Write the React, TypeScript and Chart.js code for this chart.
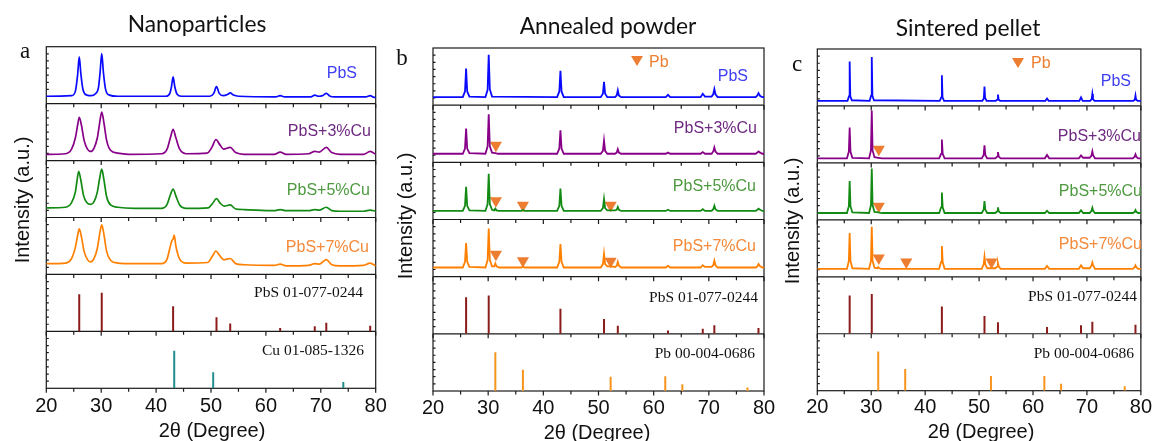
import React, { useEffect, useRef } from "react";
import { Chart, registerables } from "chart.js";
Chart.register(...registerables);

type Pt = [number, number];

// ---------------- DATA ----------------
const X_TICKS = [20, 30, 40, 50, 60, 70, 80];
const SAMPLE_LABELS = ["PbS", "PbS+3%Cu", "PbS+5%Cu", "PbS+7%Cu"];
const PANEL_TITLES = ["Nanoparticles", "Annealed powder", "Sintered pellet"];

// Panel a – nanoparticles (2θ, relative intensity within its strip)
const A_PBS: Pt[] = [[20,0.13],[24.6,0.14],[25.3,0.22],[25.7,0.5],[26.0,0.82],[26.3,0.52],[26.7,0.24],[27.4,0.15],[28.2,0.14],[28.9,0.17],[29.5,0.28],[29.8,0.55],[30.1,0.88],[30.4,0.55],[30.8,0.25],[31.5,0.15],[33,0.13],[41.8,0.13],[42.5,0.18],[42.8,0.3],[43.1,0.47],[43.4,0.3],[43.8,0.17],[44.6,0.13],[49.8,0.13],[50.5,0.18],[51.0,0.30],[51.5,0.18],[52.2,0.14],[53.0,0.16],[53.5,0.19],[54.1,0.15],[55,0.13],[61.8,0.12],[62.6,0.14],[63.4,0.12],[68.2,0.12],[68.9,0.15],[69.6,0.13],[70.3,0.14],[71.0,0.18],[71.7,0.13],[72.5,0.12],[78.2,0.12],[79.0,0.14],[79.7,0.11],[80,0.11]];
const A_3CU: Pt[] = [[20,0.11],[23.5,0.12],[24.6,0.2],[25.3,0.4],[25.7,0.62],[26.0,0.76],[26.4,0.62],[26.9,0.35],[27.5,0.2],[28.1,0.16],[28.7,0.22],[29.3,0.4],[29.7,0.65],[30.1,0.85],[30.5,0.66],[31.0,0.35],[31.7,0.18],[33,0.13],[35,0.11],[41,0.12],[42.0,0.2],[42.6,0.4],[43.1,0.55],[43.6,0.4],[44.3,0.2],[45.5,0.12],[49.3,0.13],[50.2,0.24],[50.9,0.37],[51.6,0.28],[52.3,0.2],[53.5,0.23],[54.5,0.14],[56,0.11],[61.5,0.11],[62.6,0.15],[63.7,0.11],[67.8,0.12],[68.9,0.16],[69.7,0.15],[71.0,0.23],[72.0,0.14],[73.5,0.11],[77.8,0.11],[79.0,0.16],[80,0.11]];
const A_5CU: Pt[] = [[20,0.17],[23.5,0.18],[24.6,0.26],[25.3,0.45],[25.6,0.65],[25.9,0.81],[26.3,0.65],[26.8,0.38],[27.4,0.26],[28.1,0.23],[28.7,0.28],[29.3,0.45],[29.7,0.68],[30.1,0.85],[30.5,0.66],[31.0,0.36],[31.7,0.22],[33,0.18],[36,0.16],[41,0.16],[42.0,0.23],[42.6,0.4],[43.1,0.5],[43.6,0.38],[44.3,0.22],[45.5,0.16],[49.5,0.17],[50.3,0.25],[51.0,0.33],[51.7,0.25],[52.4,0.2],[53.5,0.22],[54.5,0.15],[56,0.14],[61.5,0.12],[62.6,0.14],[63.7,0.12],[67.8,0.12],[68.9,0.14],[69.7,0.13],[71.0,0.18],[72.0,0.12],[73.5,0.11],[77.8,0.11],[79.0,0.13],[80,0.11]];
const A_7CU: Pt[] = [[20,0.19],[23.5,0.2],[24.6,0.28],[25.3,0.48],[25.7,0.68],[26.0,0.80],[26.4,0.66],[26.9,0.4],[27.5,0.26],[28.1,0.22],[28.7,0.28],[29.3,0.46],[29.7,0.7],[30.1,0.87],[30.5,0.7],[31.0,0.4],[31.7,0.25],[33,0.2],[36,0.19],[41,0.19],[42.0,0.27],[42.5,0.46],[42.9,0.6],[43.1,0.62],[43.3,0.69],[43.6,0.5],[44.3,0.27],[45.5,0.2],[49.4,0.21],[50.3,0.33],[50.9,0.41],[51.6,0.33],[52.3,0.26],[53.5,0.28],[54.5,0.19],[56,0.17],[61.5,0.16],[62.6,0.18],[63.7,0.15],[67.8,0.16],[68.9,0.19],[69.7,0.18],[71.0,0.26],[72.0,0.17],[73.5,0.15],[77.8,0.16],[79.0,0.2],[80,0.15]];

// Panel b – annealed powder
const B_PBS: Pt[] = [[20,0.14],[25.4,0.14],[25.8,0.24],[26.0,0.64],[26.2,0.24],[26.6,0.15],[29.5,0.14],[29.9,0.27],[30.1,0.88],[30.3,0.28],[30.7,0.15],[42.5,0.14],[42.9,0.24],[43.1,0.60],[43.3,0.24],[43.7,0.14],[50.4,0.14],[50.8,0.2],[51.0,0.41],[51.2,0.2],[51.6,0.14],[53.0,0.14],[53.3,0.17],[53.5,0.26],[53.7,0.17],[54.1,0.14],[62.2,0.14],[62.6,0.18],[63.0,0.14],[68.5,0.14],[68.9,0.2],[69.3,0.15],[70.5,0.15],[70.8,0.19],[71.0,0.28],[71.2,0.19],[71.6,0.14],[78.5,0.14],[78.8,0.17],[79.0,0.21],[79.3,0.16],[79.7,0.14],[80,0.14]];
const B_3CU: Pt[] = [[20,0.15],[25.4,0.15],[25.8,0.24],[26.0,0.59],[26.2,0.24],[26.6,0.16],[29.5,0.15],[29.9,0.28],[30.1,0.84],[30.3,0.28],[30.7,0.17],[31.3,0.16],[31.8,0.15],[42.5,0.15],[42.9,0.24],[43.1,0.56],[43.3,0.24],[43.7,0.15],[50.4,0.15],[50.8,0.2],[51.0,0.38],[51.2,0.2],[51.6,0.15],[53.0,0.15],[53.3,0.17],[53.5,0.23],[53.7,0.17],[54.1,0.15],[62.2,0.15],[62.6,0.17],[63.0,0.15],[68.5,0.15],[68.9,0.18],[69.3,0.15],[70.5,0.15],[70.8,0.19],[71.0,0.26],[71.2,0.19],[71.6,0.15],[78.5,0.15],[78.8,0.17],[79.0,0.19],[79.3,0.17],[79.7,0.15],[80,0.15]];
const B_5CU: Pt[] = [[20,0.15],[25.4,0.15],[25.8,0.24],[26.0,0.57],[26.2,0.24],[26.6,0.16],[29.5,0.15],[29.9,0.27],[30.1,0.80],[30.3,0.27],[30.7,0.17],[31.1,0.16],[31.3,0.19],[31.5,0.16],[32,0.15],[36.0,0.15],[36.3,0.165],[36.6,0.15],[42.5,0.15],[42.9,0.24],[43.1,0.54],[43.3,0.24],[43.7,0.15],[50.4,0.15],[50.8,0.2],[51.0,0.36],[51.2,0.2],[51.6,0.16],[52.2,0.16],[53.0,0.16],[53.3,0.17],[53.5,0.22],[53.7,0.17],[54.1,0.15],[62.2,0.15],[62.6,0.17],[63.0,0.15],[68.5,0.15],[68.9,0.18],[69.3,0.15],[70.5,0.15],[70.8,0.18],[71.0,0.24],[71.2,0.18],[71.6,0.15],[78.5,0.15],[78.8,0.17],[79.0,0.19],[79.3,0.17],[79.7,0.15],[80,0.15]];
const B_7CU: Pt[] = [[20,0.16],[25.4,0.16],[25.8,0.26],[26.0,0.59],[26.2,0.26],[26.6,0.17],[29.5,0.16],[29.9,0.29],[30.1,0.84],[30.3,0.29],[30.7,0.18],[31.1,0.18],[31.3,0.23],[31.5,0.18],[32,0.16],[36.0,0.16],[36.3,0.175],[36.6,0.16],[42.5,0.16],[42.9,0.26],[43.1,0.57],[43.3,0.26],[43.7,0.16],[50.4,0.16],[50.8,0.22],[51.0,0.40],[51.2,0.22],[51.6,0.18],[52.2,0.18],[53.0,0.17],[53.3,0.19],[53.5,0.26],[53.7,0.19],[54.1,0.16],[62.2,0.16],[62.6,0.19],[63.0,0.16],[68.5,0.16],[68.9,0.2],[69.3,0.17],[70.5,0.17],[70.8,0.2],[71.0,0.28],[71.2,0.2],[71.6,0.16],[78.5,0.16],[78.8,0.18],[79.0,0.22],[79.3,0.18],[79.7,0.16],[80,0.16]];

// Panel c – sintered pellet
const C_PBS: Pt[] = [[20,0.09],[25.6,0.09],[25.88,0.17],[26.0,0.78],[26.12,0.17],[26.4,0.1],[29.7,0.09],[29.98,0.18],[30.1,0.86],[30.22,0.18],[30.5,0.1],[42.7,0.09],[42.98,0.15],[43.1,0.54],[43.22,0.15],[43.5,0.09],[50.6,0.09],[50.88,0.13],[51.0,0.34],[51.12,0.14],[51.4,0.09],[53.1,0.09],[53.38,0.11],[53.5,0.2],[53.62,0.11],[53.9,0.09],[62.3,0.09],[62.6,0.13],[62.9,0.09],[68.6,0.09],[68.9,0.15],[69.2,0.09],[70.6,0.09],[70.88,0.12],[71.0,0.21],[71.12,0.12],[71.4,0.09],[78.6,0.09],[78.88,0.11],[79.0,0.18],[79.12,0.11],[79.4,0.09],[80,0.09]];
const C_3CU: Pt[] = [[20,0.08],[25.5,0.08],[25.85,0.2],[26.0,0.62],[26.15,0.2],[26.5,0.09],[29.6,0.08],[29.95,0.22],[30.1,0.92],[30.25,0.22],[30.6,0.1],[31.3,0.09],[32,0.08],[42.6,0.08],[42.95,0.16],[43.1,0.41],[43.25,0.16],[43.6,0.08],[50.5,0.08],[50.85,0.14],[51.0,0.31],[51.15,0.14],[51.5,0.08],[53.0,0.08],[53.35,0.11],[53.5,0.19],[53.65,0.11],[54.0,0.08],[62.2,0.08],[62.6,0.14],[63.0,0.08],[68.5,0.08],[68.9,0.13],[69.3,0.09],[70.5,0.09],[70.85,0.13],[71.0,0.2],[71.15,0.13],[71.5,0.08],[78.5,0.08],[78.85,0.11],[79.0,0.15],[79.15,0.11],[79.5,0.08],[80,0.08]];
const C_5CU: Pt[] = [[20,0.12],[25.5,0.12],[25.85,0.24],[26.0,0.68],[26.15,0.24],[26.5,0.13],[29.6,0.12],[29.95,0.26],[30.1,0.90],[30.25,0.26],[30.6,0.14],[31.3,0.13],[32,0.12],[42.6,0.12],[42.95,0.22],[43.1,0.48],[43.25,0.22],[43.6,0.12],[50.5,0.12],[50.85,0.18],[51.0,0.33],[51.15,0.18],[51.5,0.12],[53.0,0.12],[53.35,0.15],[53.5,0.22],[53.65,0.15],[54.0,0.12],[62.2,0.12],[62.6,0.16],[63.0,0.12],[68.5,0.12],[68.9,0.17],[69.3,0.12],[70.5,0.12],[70.85,0.16],[71.0,0.21],[71.15,0.16],[71.5,0.12],[78.5,0.12],[78.85,0.14],[79.0,0.17],[79.15,0.14],[79.5,0.12],[80,0.12]];
const C_7CU: Pt[] = [[20,0.14],[25.5,0.14],[25.85,0.28],[26.0,0.77],[26.15,0.28],[26.5,0.15],[29.6,0.14],[29.95,0.28],[30.1,0.88],[30.25,0.28],[30.6,0.16],[31.1,0.15],[31.3,0.17],[31.5,0.15],[32,0.14],[42.6,0.14],[42.95,0.26],[43.1,0.54],[43.25,0.26],[43.6,0.14],[50.5,0.14],[50.85,0.22],[51.0,0.35],[51.15,0.22],[51.5,0.15],[53.0,0.15],[53.35,0.18],[53.5,0.24],[53.65,0.18],[54.0,0.14],[62.2,0.14],[62.6,0.19],[63.0,0.14],[68.5,0.14],[68.9,0.2],[69.3,0.15],[70.5,0.15],[70.85,0.2],[71.0,0.25],[71.15,0.2],[71.5,0.14],[78.5,0.14],[78.85,0.17],[79.0,0.2],[79.15,0.17],[79.5,0.14],[80,0.14]];

// Reference patterns (stick positions and heights)
const PBS_REF_POS = [26.0, 30.1, 43.1, 51.0, 53.5, 62.6, 68.9, 71.0, 79.0];
const PBS_REF_H_A = [0.65, 0.68, 0.44, 0.25, 0.14, 0.06, 0.09, 0.15, 0.10];
const PBS_REF_H_B = [0.64, 0.67, 0.44, 0.26, 0.14, 0.06, 0.09, 0.15, 0.10];
const PBS_REF_H_C = [0.67, 0.70, 0.48, 0.31, 0.20, 0.12, 0.15, 0.21, 0.16];
const CU_REF_POS = [43.3, 50.4, 74.1];
const CU_REF_H = [0.66, 0.28, 0.11];
const PB_REF_POS = [31.3, 36.3, 52.2, 62.1, 65.2, 77.0];
const PB_REF_H_B = [0.68, 0.37, 0.25, 0.26, 0.12, 0.06];
const PB_REF_H_C = [0.69, 0.38, 0.26, 0.26, 0.12, 0.08];
const REF_LABELS_A = ["PbS 01-077-0244", "Cu 01-085-1326"];
const REF_LABELS_BC = ["PbS 01-077-0244", "Pb 00-004-0686"];

// Pb peak markers (2θ, height within strip) per sample
const MARK_B: Pt[][] = [[], [[31.4, 0.30]], [[31.4, 0.33], [36.3, 0.25], [52.2, 0.25]], [[31.4, 0.39], [36.3, 0.28], [52.2, 0.27]]];
const MARK_C: Pt[][] = [[], [[31.4, 0.24]], [[31.4, 0.24]], [[31.4, 0.33], [36.5, 0.26], [52.3, 0.26]]];

// ---------------- STYLE ----------------
const LINE_COLORS = ["#0a0aff", "#880088", "#138a13", "#ff8000"];
const LABEL_COLORS = ["#3f3ff2", "#6e2a80", "#4e9a40", "#f58a3a"];
const PBS_STICK = "#8b1c1c";
const CU_STICK = "#238d8d";
const PB_STICK = "#f7941d";
const MARK_COLOR = "#ED7D31";

type Panel = {
  pad: { left: number; right: number; top: number; bottom: number };
  tickPad: number;
  curves: Pt[][];
  smooth: boolean;
  lw: number;
  refs: { pos: number[]; h: number[]; color: string }[];
  marks: Pt[][];
};

const PANELS: Panel[] = [
  {
    pad: { left: 46.3, right: 1157 - 375.7, top: 46.7, bottom: 441 - 388.3 - 30 },
    tickPad: 6,
    curves: [A_PBS, A_3CU, A_5CU, A_7CU],
    smooth: true,
    lw: 1.7,
    refs: [
      { pos: PBS_REF_POS, h: PBS_REF_H_A, color: PBS_STICK },
      { pos: CU_REF_POS, h: CU_REF_H, color: CU_STICK },
    ],
    marks: [[], [], [], []],
  },
  {
    pad: { left: 433, right: 1157 - 764, top: 48, bottom: 441 - 391 - 30 },
    tickPad: 5,
    curves: [B_PBS, B_3CU, B_5CU, B_7CU],
    smooth: false,
    lw: 1.8,
    refs: [
      { pos: PBS_REF_POS, h: PBS_REF_H_B, color: PBS_STICK },
      { pos: PB_REF_POS, h: PB_REF_H_B, color: PB_STICK },
    ],
    marks: MARK_B,
  },
  {
    pad: { left: 817.3, right: 1157 - 1146, top: 49, bottom: 441 - 390.7 - 30 },
    tickPad: 5,
    curves: [C_PBS, C_3CU, C_5CU, C_7CU],
    smooth: false,
    lw: 1.8,
    refs: [
      { pos: PBS_REF_POS, h: PBS_REF_H_C, color: PBS_STICK },
      { pos: PB_REF_POS, h: PB_REF_H_C, color: PB_STICK },
    ],
    marks: MARK_C,
  },
];

const framePlugin = {
  id: "xrdFrame",
  beforeDatasetsDraw(chart: any) {
    const { ctx, chartArea } = chart;
    const { left, right, top, bottom } = chartArea;
    const xs = chart.scales.x;
    const ys = chart.scales.y;
    ctx.save();
    ctx.strokeStyle = "#1a1a1a";
    ctx.lineWidth = 1.2;
    ctx.strokeRect(left, top, right - left, bottom - top);
    ctx.beginPath();
    for (let k = 0; k <= 5; k++) {
      const y = ys.getPixelForValue(k);
      if (k > 0) {
        ctx.moveTo(left, y);
        ctx.lineTo(right, y);
      }
      for (let v = 20; v <= 80; v += 5) {
        const x = xs.getPixelForValue(v);
        ctx.moveTo(x, y);
        ctx.lineTo(x, y + (v % 10 === 0 ? 4.5 : 3.5));
      }
    }
    for (let k = 0; k < 6; k++) {
      for (let j = 1; j < 8; j++) {
        const y = ys.getPixelForValue(k + j / 8);
        ctx.moveTo(left, y);
        ctx.lineTo(left + 2.5, y);
      }
    }
    ctx.stroke();
    ctx.restore();
  },
};

function buildDatasets(p: Panel) {
  const ds: any[] = [];
  p.curves.forEach((c, i) => {
    const off = 5 - i;
    ds.push({
      data: c.map(([x, y]) => ({ x, y: y + off })),
      borderColor: LINE_COLORS[i],
      borderWidth: p.lw,
      pointRadius: 0,
      tension: 0,
      cubicInterpolationMode: p.smooth ? "monotone" : "default",
      fill: false,
    });
  });
  p.refs.forEach((r, i) => {
    const off = 1 - i;
    const data: any[] = [];
    r.pos.forEach((x, j) => {
      data.push({ x, y: off }, { x, y: off + r.h[j] }, { x, y: null });
    });
    ds.push({
      data,
      borderColor: r.color,
      borderWidth: 2,
      pointRadius: 0,
      tension: 0,
      spanGaps: false,
      fill: false,
    });
  });
  p.marks.forEach((m, i) => {
    if (!m.length) return;
    const off = 5 - i;
    ds.push({
      data: m.map(([x, y]) => ({ x, y: y + off })),
      showLine: false,
      pointStyle: "triangle",
      rotation: 180,
      pointRadius: 7,
      pointBackgroundColor: MARK_COLOR,
      pointBorderColor: MARK_COLOR,
      pointBorderWidth: 0,
    });
  });
  return ds;
}

function PanelChart({ p }: { p: Panel }) {
  const ref = useRef<HTMLCanvasElement | null>(null);
  useEffect(() => {
    if (!ref.current) return;
    const chart = new Chart(ref.current, {
      type: "line",
      data: { datasets: buildDatasets(p) },
      options: {
        animation: false,
        responsive: false,
        events: [],
        layout: { padding: p.pad },
        plugins: { legend: { display: false }, tooltip: { enabled: false }, title: { display: false } },
        scales: {
          x: {
            type: "linear",
            min: 20,
            max: 80,
            afterFit: (s: any) => {
              s.height = 30;
            },
            afterBuildTicks: (s: any) => {
              s.ticks = X_TICKS.map((v) => ({ value: v }));
            },
            grid: { display: false, drawTicks: false },
            border: { display: false },
            ticks: {
              padding: p.tickPad,
              maxRotation: 0,
              autoSkip: false,
              color: "#111",
              font: { family: "'Liberation Sans', Arial, sans-serif", size: 20 },
            },
          },
          y: { type: "linear", min: 0, max: 6, display: false },
        },
      } as any,
      plugins: [framePlugin],
    });
    return () => chart.destroy();
  }, [p]);
  return (
    <canvas
      ref={ref}
      width={1157}
      height={441}
      style={{ position: "absolute", left: 0, top: 0, width: 1157, height: 441 }}
    />
  );
}

function T({
  x,
  y,
  a = "center",
  rot = false,
  style,
  children,
}: {
  x: number;
  y: number;
  a?: "left" | "center" | "right";
  rot?: boolean;
  style?: React.CSSProperties;
  children: React.ReactNode;
}) {
  const tx = a === "left" ? "0" : a === "right" ? "-100%" : "-50%";
  return (
    <div
      style={{
        position: "absolute",
        left: x,
        top: y,
        whiteSpace: "nowrap",
        lineHeight: 1,
        transform: rot ? "translate(-50%,-50%) rotate(-90deg)" : `translate(${tx},-50%)`,
        ...style,
      }}
    >
      {children}
    </div>
  );
}

const SANS = "'Liberation Sans', Arial, sans-serif";
const SERIF = "'Liberation Serif', 'Times New Roman', serif";
const TITLE_FONT = "Lato, 'Open Sans', sans-serif";

function Tri({ x, y }: { x: number; y: number }) {
  return (
    <div
      style={{
        position: "absolute",
        left: x - 6,
        top: y - 5,
        width: 0,
        height: 0,
        borderLeft: "6px solid transparent",
        borderRight: "6px solid transparent",
        borderTop: "10px solid " + MARK_COLOR,
      }}
    />
  );
}

export default function App() {
  const sampleStyle = (i: number): React.CSSProperties => ({ fontFamily: SANS, fontSize: 16, color: LABEL_COLORS[i] });
  const refStyle: React.CSSProperties = { fontFamily: SERIF, fontSize: 15.5, color: "#111" };
  const axisStyle: React.CSSProperties = { fontFamily: SANS, fontSize: 20, color: "#111" };
  const titleStyle: React.CSSProperties = { fontFamily: TITLE_FONT, fontSize: 22.8, color: "#111" };
  const letterStyle: React.CSSProperties = { fontFamily: SERIF, fontSize: 23, color: "#111" };

  const sampleY = [
    [73, 131, 190, 247],
    [76, 128, 186, 246],
    [81, 136, 191, 244],
  ];
  const sampleR = [
    [357, 371, 370, 369],
    [748, 757, 756, 756],
    [1131, 1141, 1142, 1142],
  ];
  const refPos = [
    [[363, 292], [364, 350]],
    [[758, 297], [755, 353]],
    [[1137, 296], [1134, 353]],
  ];
  const refLabels = [REF_LABELS_A, REF_LABELS_BC, REF_LABELS_BC];

  return (
    <div style={{ position: "absolute", left: 0, top: 0, width: 1157, height: 441, background: "#fff", overflow: "hidden" }}>
      {PANELS.map((p, i) => (
        <PanelChart key={i} p={p} />
      ))}
      <T x={197} y={23} style={titleStyle}>{PANEL_TITLES[0]}</T>
      <T x={608} y={25} style={titleStyle}>{PANEL_TITLES[1]}</T>
      <T x={968} y={27} style={titleStyle}>{PANEL_TITLES[2]}</T>
      <T x={25} y={50} style={letterStyle}>a</T>
      <T x={402} y={57} style={letterStyle}>b</T>
      <T x={797} y={63} style={letterStyle}>c</T>
      <T x={22} y={200} rot style={axisStyle}>Intensity (a.u.)</T>
      <T x={405} y={216} rot style={axisStyle}>Intensity (a.u.)</T>
      <T x={792} y={221} rot style={axisStyle}>Intensity (a.u.)</T>
      <T x={212} y={430} style={axisStyle}>2θ (Degree)</T>
      <T x={597} y={432} style={axisStyle}>2θ (Degree)</T>
      <T x={981} y={431} style={axisStyle}>2θ (Degree)</T>
      {sampleY.map((row, pi) =>
        row.map((y, si) => (
          <T key={`s${pi}${si}`} x={sampleR[pi][si]} y={y} a="right" style={sampleStyle(si)}>
            {SAMPLE_LABELS[si]}
          </T>
        ))
      )}
      {refPos.map((row, pi) =>
        row.map(([x, y], ri) => (
          <T key={`r${pi}${ri}`} x={x} y={y} a="right" style={refStyle}>
            {refLabels[pi][ri]}
          </T>
        ))
      )}
      <Tri x={637} y={61} />
      <T x={649} y={62} a="left" style={{ fontFamily: SANS, fontSize: 16, color: MARK_COLOR }}>Pb</T>
      <Tri x={1018} y={63} />
      <T x={1031} y={63} a="left" style={{ fontFamily: SANS, fontSize: 16, color: MARK_COLOR }}>Pb</T>
    </div>
  );
}
